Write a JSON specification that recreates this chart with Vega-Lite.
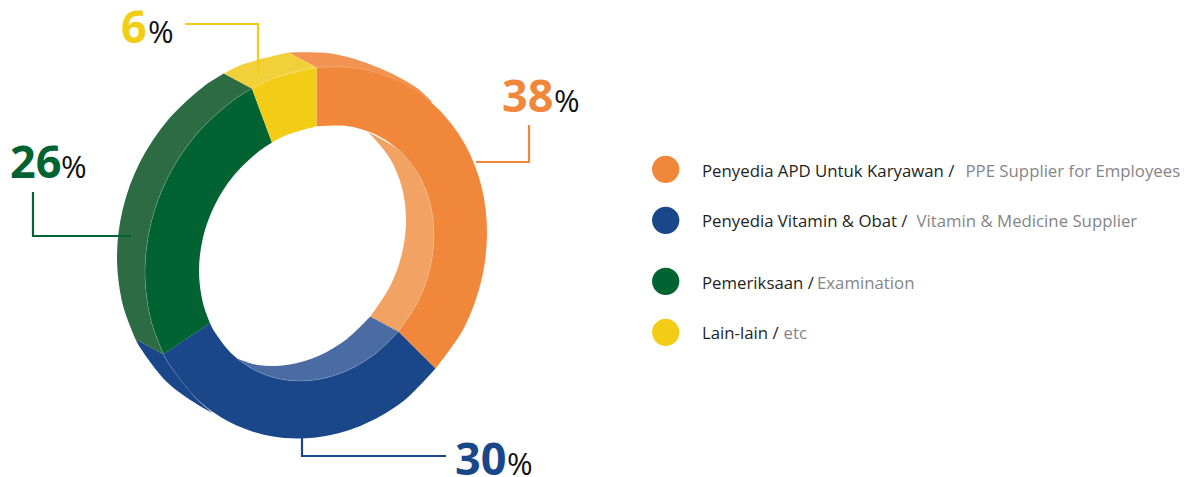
{"$schema":"https://vega.github.io/schema/vega-lite/v6.json","width":1186,"height":477,"autosize":{"type":"none"},"padding":0,"background":"#ffffff","config":{"view":{"stroke":null}},
"datasets":{
"ring":[
{"s":"Orange back","i":1,"x":288.5,"y":52.6},{"s":"Orange back","i":2,"x":332.3,"y":53.7},{"s":"Orange back","i":3,"x":377,"y":67},{"s":"Orange back","i":4,"x":417,"y":88},{"s":"Orange back","i":5,"x":433,"y":103},{"s":"Orange back","i":6,"x":433,"y":103},{"s":"Orange back","i":7,"x":316.5,"y":67.6},{"s":"Orange back","i":8,"x":316.5,"y":67.6},
{"s":"Orange inner","i":1,"x":366,"y":131},{"s":"Orange inner","i":2,"x":366,"y":131},{"s":"Orange inner","i":3,"x":399.6,"y":150.7},{"s":"Orange inner","i":4,"x":418.3,"y":174},{"s":"Orange inner","i":5,"x":430,"y":202.8},{"s":"Orange inner","i":6,"x":434,"y":235},{"s":"Orange inner","i":7,"x":430,"y":268.4},{"s":"Orange inner","i":8,"x":418.3,"y":300.8},{"s":"Orange inner","i":9,"x":398.2,"y":331.6},{"s":"Orange inner","i":10,"x":398.2,"y":331.6},{"s":"Orange inner","i":11,"x":370.2,"y":316.6},{"s":"Orange inner","i":12,"x":370.2,"y":316.6},{"s":"Orange inner","i":13,"x":390.3,"y":285.8},{"s":"Orange inner","i":14,"x":402,"y":253.4},{"s":"Orange inner","i":15,"x":406,"y":220},{"s":"Orange inner","i":16,"x":402,"y":187.8},{"s":"Orange inner","i":17,"x":390.3,"y":159},{"s":"Orange inner","i":18,"x":371.6,"y":135.7},{"s":"Orange inner","i":19,"x":366,"y":131},
{"s":"Blue inner","i":1,"x":370.2,"y":316.6},{"s":"Blue inner","i":2,"x":398.2,"y":331.6},{"s":"Blue inner","i":3,"x":398.2,"y":331.6},{"s":"Blue inner","i":4,"x":375.3,"y":353.7},{"s":"Blue inner","i":5,"x":346.9,"y":370.7},{"s":"Blue inner","i":6,"x":316.5,"y":379.7},{"s":"Blue inner","i":7,"x":286.1,"y":380.1},{"s":"Blue inner","i":8,"x":257.8,"y":371.7},{"s":"Blue inner","i":9,"x":236,"y":358},{"s":"Blue inner","i":10,"x":236,"y":358},{"s":"Blue inner","i":11,"x":258.1,"y":365.1},{"s":"Blue inner","i":12,"x":288.5,"y":364.7},{"s":"Blue inner","i":13,"x":318.9,"y":355.7},{"s":"Blue inner","i":14,"x":347.3,"y":338.7},{"s":"Blue inner","i":15,"x":370.2,"y":316.6},
{"s":"Blue front","i":1,"x":135.6,"y":339.2},{"s":"Blue front","i":2,"x":135.6,"y":339.2},{"s":"Blue front","i":3,"x":139.9,"y":347.3},{"s":"Blue front","i":4,"x":167.1,"y":382.3},{"s":"Blue front","i":5,"x":202.5,"y":407.6},{"s":"Blue front","i":6,"x":213,"y":413},{"s":"Blue front","i":7,"x":213,"y":413},{"s":"Blue front","i":8,"x":195.1,"y":397.3},{"s":"Blue front","i":9,"x":167.9,"y":362.3},{"s":"Blue front","i":10,"x":163.6,"y":354.2},
{"s":"Green back","i":1,"x":223.9,"y":73.6},{"s":"Green back","i":2,"x":202.5,"y":87.4},{"s":"Green back","i":3,"x":167.1,"y":120.9},{"s":"Green back","i":4,"x":139.9,"y":162.3},{"s":"Green back","i":5,"x":122.8,"y":208.9},{"s":"Green back","i":6,"x":117,"y":257.5},{"s":"Green back","i":7,"x":122.8,"y":304.7},{"s":"Green back","i":8,"x":135.6,"y":339.2},{"s":"Green back","i":9,"x":135.6,"y":339.2},{"s":"Green back","i":10,"x":163.6,"y":354.2},{"s":"Green back","i":11,"x":163.6,"y":354.2},{"s":"Green back","i":12,"x":150.8,"y":319.7},{"s":"Green back","i":13,"x":145,"y":272.5},{"s":"Green back","i":14,"x":150.8,"y":223.9},{"s":"Green back","i":15,"x":167.9,"y":177.3},{"s":"Green back","i":16,"x":195.1,"y":135.9},{"s":"Green back","i":17,"x":230.5,"y":102.4},{"s":"Green back","i":18,"x":251.9,"y":88.6},
{"s":"Yellow back","i":1,"x":223.9,"y":73.6},{"s":"Yellow back","i":2,"x":243.7,"y":64.1},{"s":"Yellow back","i":3,"x":288.5,"y":52.6},{"s":"Yellow back","i":4,"x":288.5,"y":52.6},{"s":"Yellow back","i":5,"x":316.5,"y":67.6},{"s":"Yellow back","i":6,"x":316.5,"y":67.6},{"s":"Yellow back","i":7,"x":271.7,"y":79.1},{"s":"Yellow back","i":8,"x":251.9,"y":88.6}
],
"front":[
{"s":"Orange front","i":1,"x":316.5,"y":67.6},{"s":"Orange front","i":2,"x":316.5,"y":67.6},{"s":"Orange front","i":3,"x":360.3,"y":68.7},{"s":"Orange front","i":4,"x":401.5,"y":82.4},{"s":"Orange front","i":5,"x":436.9,"y":107.7},{"s":"Orange front","i":6,"x":464.1,"y":142.7},{"s":"Orange front","i":7,"x":481.2,"y":185.3},{"s":"Orange front","i":8,"x":487,"y":232.5},{"s":"Orange front","i":9,"x":481.2,"y":281.1},{"s":"Orange front","i":10,"x":464.1,"y":327.7},{"s":"Orange front","i":11,"x":435.5,"y":368.5},{"s":"Orange front","i":12,"x":435.5,"y":368.5},{"s":"Orange front","i":13,"x":398.2,"y":331.6},{"s":"Orange front","i":14,"x":398.2,"y":331.6},{"s":"Orange front","i":15,"x":418.3,"y":300.8},{"s":"Orange front","i":16,"x":430,"y":268.4},{"s":"Orange front","i":17,"x":434,"y":235},{"s":"Orange front","i":18,"x":430,"y":202.8},{"s":"Orange front","i":19,"x":418.3,"y":174},{"s":"Orange front","i":20,"x":399.6,"y":150.7},{"s":"Orange front","i":21,"x":375.3,"y":134.3},{"s":"Orange front","i":22,"x":346.9,"y":125.9},{"s":"Orange front","i":23,"x":316.5,"y":126.3},
{"s":"Blue front","i":1,"x":398.2,"y":331.6},{"s":"Blue front","i":2,"x":435.5,"y":368.5},{"s":"Blue front","i":3,"x":435.5,"y":368.5},{"s":"Blue front","i":4,"x":401.5,"y":402.6},{"s":"Blue front","i":5,"x":360.3,"y":425.9},{"s":"Blue front","i":6,"x":316,"y":437.4},{"s":"Blue front","i":7,"x":271.7,"y":436.3},{"s":"Blue front","i":8,"x":230.5,"y":422.6},{"s":"Blue front","i":9,"x":195.1,"y":397.3},{"s":"Blue front","i":10,"x":167.9,"y":362.3},{"s":"Blue front","i":11,"x":163.6,"y":354.2},{"s":"Blue front","i":12,"x":163.6,"y":354.2},{"s":"Blue front","i":13,"x":210,"y":322.9},{"s":"Blue front","i":14,"x":210,"y":322.9},{"s":"Blue front","i":15,"x":214.7,"y":332},{"s":"Blue front","i":16,"x":233.4,"y":355.3},{"s":"Blue front","i":17,"x":257.8,"y":371.7},{"s":"Blue front","i":18,"x":286.1,"y":380.1},{"s":"Blue front","i":19,"x":316.5,"y":379.7},{"s":"Blue front","i":20,"x":346.9,"y":370.7},{"s":"Blue front","i":21,"x":375.3,"y":353.7},{"s":"Blue front","i":22,"x":398.2,"y":331.6},
{"s":"Green front","i":1,"x":163.6,"y":354.2},{"s":"Green front","i":2,"x":163.6,"y":354.2},{"s":"Green front","i":3,"x":150.8,"y":319.7},{"s":"Green front","i":4,"x":145,"y":272.5},{"s":"Green front","i":5,"x":150.8,"y":223.9},{"s":"Green front","i":6,"x":167.9,"y":177.3},{"s":"Green front","i":7,"x":195.1,"y":135.9},{"s":"Green front","i":8,"x":230.5,"y":102.4},{"s":"Green front","i":9,"x":251.9,"y":88.6},{"s":"Green front","i":10,"x":251.9,"y":88.6},{"s":"Green front","i":11,"x":272,"y":142.6},{"s":"Green front","i":12,"x":272,"y":142.6},{"s":"Green front","i":13,"x":257.8,"y":152.3},{"s":"Green front","i":14,"x":233.4,"y":176.1},{"s":"Green front","i":15,"x":214.7,"y":205.2},{"s":"Green front","i":16,"x":203,"y":237.6},{"s":"Green front","i":17,"x":199,"y":271},{"s":"Green front","i":18,"x":203,"y":303.2},{"s":"Green front","i":19,"x":210,"y":322.9},{"s":"Green front","i":20,"x":210,"y":322.9},
{"s":"Yellow front","i":1,"x":251.9,"y":88.6},{"s":"Yellow front","i":2,"x":251.9,"y":88.6},{"s":"Yellow front","i":3,"x":271.7,"y":79.1},{"s":"Yellow front","i":4,"x":316.5,"y":67.6},{"s":"Yellow front","i":5,"x":316.5,"y":67.6},{"s":"Yellow front","i":6,"x":316.5,"y":126.3},{"s":"Yellow front","i":7,"x":316.5,"y":126.3},{"s":"Yellow front","i":8,"x":286.1,"y":135.3},{"s":"Yellow front","i":9,"x":272,"y":142.6},{"s":"Yellow front","i":10,"x":272,"y":142.6}
],
"seam":[
{"s":"a","i":1,"x":163.6,"y":354.2},{"s":"a","i":2,"x":150.8,"y":319.7},{"s":"a","i":3,"x":145,"y":272.5},{"s":"a","i":4,"x":150.8,"y":223.9},{"s":"a","i":5,"x":167.9,"y":177.3},{"s":"a","i":6,"x":195.1,"y":135.9},{"s":"a","i":7,"x":230.5,"y":102.4},{"s":"a","i":8,"x":271.7,"y":79.1},{"s":"a","i":9,"x":316.5,"y":67.6},{"s":"a","i":10,"x":360.3,"y":68.7},{"s":"a","i":11,"x":395,"y":79},
{"s":"b","i":1,"x":163.6,"y":354.2},{"s":"b","i":2,"x":167.9,"y":362.3},{"s":"b","i":3,"x":195.1,"y":397.3},{"s":"b","i":4,"x":213,"y":413},
{"s":"c","i":1,"x":366,"y":131},{"s":"c","i":2,"x":399.6,"y":150.7},{"s":"c","i":3,"x":418.3,"y":174},{"s":"c","i":4,"x":430,"y":202.8},{"s":"c","i":5,"x":434,"y":235},{"s":"c","i":6,"x":430,"y":268.4},{"s":"c","i":7,"x":418.3,"y":300.8},{"s":"c","i":8,"x":398.2,"y":331.6},{"s":"c","i":9,"x":375.3,"y":353.7},{"s":"c","i":10,"x":346.9,"y":370.7},{"s":"c","i":11,"x":316.5,"y":379.7},{"s":"c","i":12,"x":286.1,"y":380.1},{"s":"c","i":13,"x":257.8,"y":371.7},{"s":"c","i":14,"x":236,"y":358}
],
"leaders":[
{"s":"Orange front","i":1,"x":476,"y":162},{"s":"Orange front","i":2,"x":529,"y":162},{"s":"Orange front","i":3,"x":529,"y":125},
{"s":"Blue front","i":1,"x":302,"y":437},{"s":"Blue front","i":2,"x":302,"y":456},{"s":"Blue front","i":3,"x":446,"y":456},
{"s":"Green front","i":1,"x":33,"y":192},{"s":"Green front","i":2,"x":33,"y":236},{"s":"Green front","i":3,"x":131,"y":236},
{"s":"Yellow front","i":1,"x":185,"y":24},{"s":"Yellow front","i":2,"x":258,"y":24},{"s":"Yellow front","i":3,"x":258,"y":75}
],
"values":[
{"s":"Orange front","v":"38","x":502,"y":112,"px":554},
{"s":"Blue front","v":"30","x":455,"y":475,"px":507},
{"s":"Green front","v":"26","x":10,"y":178,"px":61},
{"s":"Yellow front","v":"6","x":121,"y":43,"px":148}
],
"legend":[
{"s":"Orange front","x":665.7,"y":169.3,"tx":702,"ty":177,"id":"Penyedia APD Untuk Karyawan /","gx":965.5,"en":"PPE Supplier for Employees"},
{"s":"Blue front","x":665.7,"y":220.3,"tx":702,"ty":227,"id":"Penyedia Vitamin & Obat /","gx":916.5,"en":"Vitamin & Medicine Supplier"},
{"s":"Green front","x":665.7,"y":281.3,"tx":702,"ty":289,"id":"Pemeriksaan /","gx":817,"en":"Examination"},
{"s":"Yellow front","x":665.7,"y":332.3,"tx":702,"ty":339,"id":"Lain-lain /","gx":783.5,"en":"etc"}
]},
"data":{"name":"ring"},
"encoding":{
"x":{"field":"x","type":"quantitative","scale":{"domain":[0,1186],"nice":false,"zero":false},"axis":null},
"y":{"field":"y","type":"quantitative","scale":{"domain":[477,0],"nice":false,"zero":false},"axis":null}
},
"layer":[
{"mark":{"type":"line","filled":true,"interpolate":"catmull-rom","strokeWidth":0},"encoding":{"order":{"field":"i","type":"quantitative"},"detail":{"field":"s"},"color":{"field":"s","type":"nominal","legend":null,"scale":{"domain":["Orange front","Blue front","Green front","Yellow front","Orange back","Orange inner","Blue inner","Green back","Yellow back"],"range":["#F1873A","#1A478A","#016232","#F3CD15","#F29354","#F2A263","#4A6CA3","#2D6C42","#F2D03A"]}}}},
{"data":{"name":"front"},"mark":{"type":"line","filled":true,"interpolate":"catmull-rom","strokeWidth":0},"encoding":{"order":{"field":"i","type":"quantitative"},"detail":{"field":"s"},"color":{"field":"s","type":"nominal","legend":null}}},
{"data":{"name":"seam"},"mark":{"type":"line","interpolate":"catmull-rom","stroke":"#ffffff","strokeOpacity":0.25,"strokeWidth":0.7},"encoding":{"order":{"field":"i","type":"quantitative"},"detail":{"field":"s"}}},
{"data":{"name":"leaders"},"mark":{"type":"line","strokeWidth":2.2,"strokeJoin":"miter"},"encoding":{"order":{"field":"i","type":"quantitative"},"detail":{"field":"s"},"color":{"field":"s","type":"nominal","legend":null}}},
{"data":{"name":"values"},"mark":{"type":"text","align":"left","baseline":"alphabetic","font":"Open Sans","fontWeight":"bold","fontSize":45},"encoding":{"text":{"field":"v"},"color":{"field":"s","type":"nominal","legend":null}}},
{"data":{"name":"values"},"mark":{"type":"text","align":"left","baseline":"alphabetic","font":"Open Sans","fontSize":31,"fill":"#111111","text":"%"},"encoding":{"x":{"field":"px","type":"quantitative"}}},
{"data":{"name":"legend"},"mark":{"type":"point","shape":"circle","filled":true,"size":745,"opacity":1},"encoding":{"color":{"field":"s","type":"nominal","legend":null}}},
{"data":{"name":"legend"},"mark":{"type":"text","align":"left","baseline":"alphabetic","font":"Open Sans","fontSize":16.8,"fill":"#231F20"},"encoding":{"x":{"field":"tx","type":"quantitative"},"y":{"field":"ty","type":"quantitative"},"text":{"field":"id"}}},
{"data":{"name":"legend"},"mark":{"type":"text","align":"left","baseline":"alphabetic","font":"Open Sans","fontSize":16.8,"fill":"#858585"},"encoding":{"x":{"field":"gx","type":"quantitative"},"y":{"field":"ty","type":"quantitative"},"text":{"field":"en"}}}
]}
